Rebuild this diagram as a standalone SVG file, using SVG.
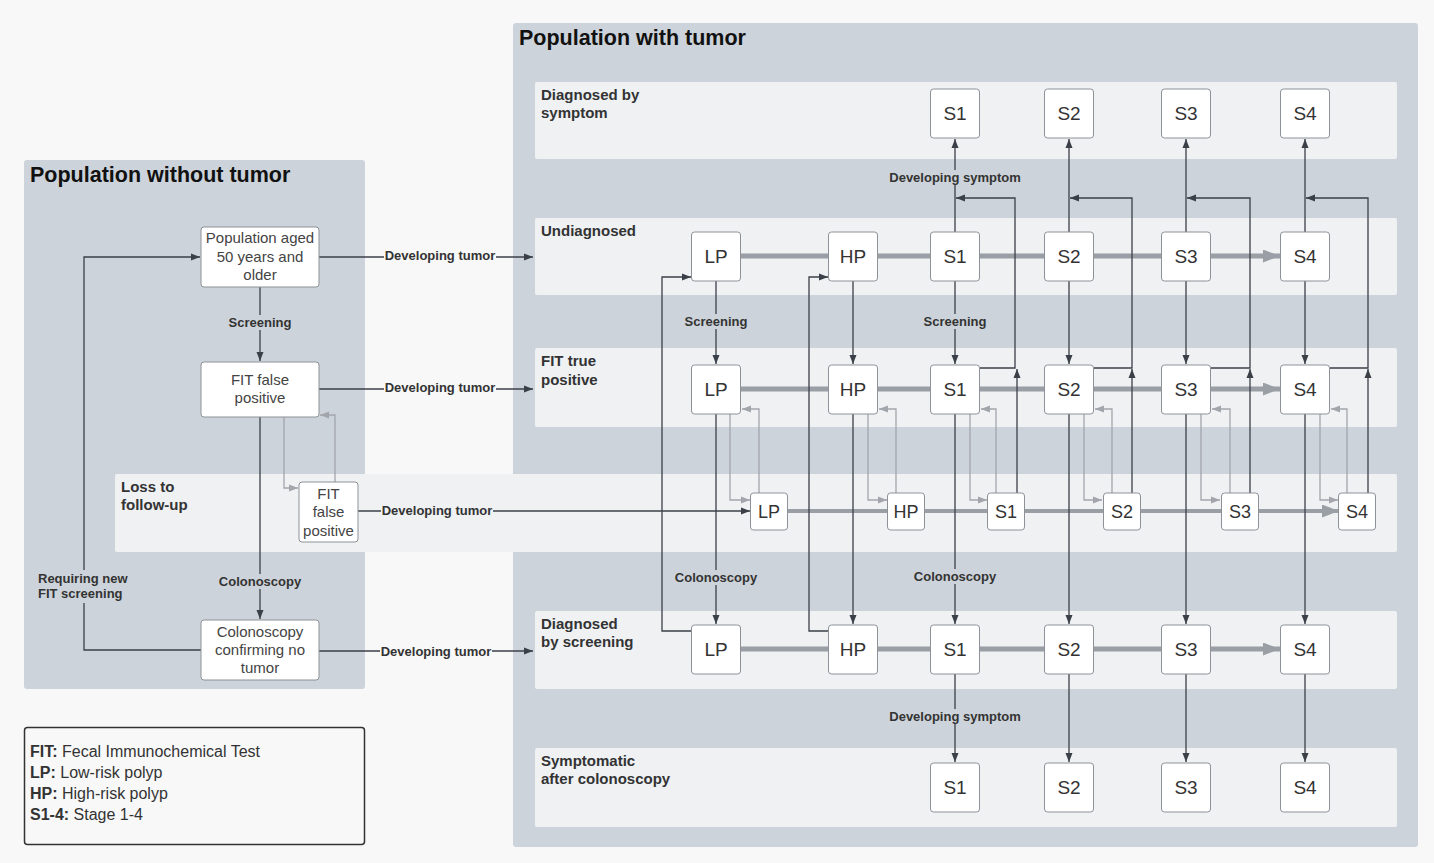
<svg xmlns="http://www.w3.org/2000/svg" width="1434" height="863" viewBox="0 0 1434 863">
<defs>
<marker id="ad" markerWidth="9" markerHeight="8" refX="9" refY="4" orient="auto" markerUnits="userSpaceOnUse"><path d="M0,0.5 L9,4 L0,7.5 z" fill="#3b4048"/></marker>
<marker id="ag" markerWidth="9" markerHeight="8" refX="9" refY="4" orient="auto" markerUnits="userSpaceOnUse"><path d="M0,0.5 L9,4 L0,7.5 z" fill="#a2a6ac"/></marker>
<marker id="at" markerWidth="17" markerHeight="13" refX="17" refY="6.5" orient="auto" markerUnits="userSpaceOnUse"><path d="M0,0 L17,6.5 L0,13 z" fill="#9a9fa6"/></marker>
</defs>
<style>
.bg{fill:#f8f8f8}
.panel{fill:#cdd3da}
.lane{fill:#eff1f3}
.title{font-family:"Liberation Sans",Arial,sans-serif;font-weight:bold;font-size:21.5px;fill:#111}
.ll{font-family:"Liberation Sans",Arial,sans-serif;font-weight:bold;font-size:15px;fill:#333}
.node rect{fill:#fff;stroke:#8d9298;stroke-width:1}
.nt{font-family:"Liberation Sans",Arial,sans-serif;font-size:19px;fill:#333;text-anchor:middle}
.ns{font-family:"Liberation Sans",Arial,sans-serif;font-size:18px;fill:#333;text-anchor:middle}
.bt{font-family:"Liberation Sans",Arial,sans-serif;font-size:15px;fill:#444;text-anchor:middle}
.ln{fill:none;stroke:#3b4048;stroke-width:1.3}
.lg{fill:none;stroke:#a2a6ac;stroke-width:1.3}
.th{fill:none;stroke:#9a9fa6;stroke-width:5}
.cl{font-family:"Liberation Sans",Arial,sans-serif;font-weight:bold;font-size:13px;fill:#333;text-anchor:middle}
.cll{font-family:"Liberation Sans",Arial,sans-serif;font-weight:bold;font-size:13px;fill:#333}
.lp{fill:#cdd3da}
.lb{fill:#f8f8f8}
.lw{fill:#eff1f3}
.leg{font-family:"Liberation Sans",Arial,sans-serif;font-size:16px;fill:#333}
</style>
<rect class="bg" x="0" y="0" width="1434" height="863"/>
<g id="panel-without">
<rect class="panel" x="24" y="160" width="341" height="529" rx="3"/>
<text class="title" x="30" y="182">Population without tumor</text>
</g>
<g id="panel-with">
<rect class="panel" x="513" y="23" width="905" height="824" rx="3"/>
<text class="title" x="519" y="45">Population with tumor</text>
</g>
<g id="lanes">
<rect class="lane" x="535" y="82" width="862" height="77" rx="2"/>
<rect class="lane" x="535" y="218" width="862" height="77" rx="2"/>
<rect class="lane" x="535" y="348" width="862" height="79" rx="2"/>
<rect class="lane" x="115" y="474" width="1282" height="78" rx="2"/>
<rect class="lane" x="535" y="611" width="862" height="78" rx="2"/>
<rect class="lane" x="535" y="748" width="862" height="79" rx="2"/>
<text class="ll" x="541" y="100">Diagnosed by</text>
<text class="ll" x="541" y="118">symptom</text>
<text class="ll" x="541" y="236">Undiagnosed</text>
<text class="ll" x="541" y="366">FIT true</text>
<text class="ll" x="541" y="385">positive</text>
<text class="ll" x="121" y="492">Loss to</text>
<text class="ll" x="121" y="510">follow-up</text>
<text class="ll" x="541" y="629">Diagnosed</text>
<text class="ll" x="541" y="647">by screening</text>
<text class="ll" x="541" y="766">Symptomatic</text>
<text class="ll" x="541" y="784">after colonoscopy</text>
</g>
<g id="connectors">
<!-- thick progression -->
<path class="th" d="M741,256 H1280" marker-end="url(#at)"/>
<path class="th" d="M741,389 H1280" marker-end="url(#at)"/>
<path class="th" d="M787,511 H1339" style="stroke-width:4" marker-end="url(#at)"/>
<path class="th" d="M741,649 H1280" marker-end="url(#at)"/>
<!-- left panel -->
<path class="ln" d="M260,287 V361" marker-end="url(#ad)"/>
<path class="ln" d="M260,417 V619" marker-end="url(#ad)"/>
<path class="ln" d="M201,650 H84 V257 H200" marker-end="url(#ad)"/>
<path class="lg" d="M284,417 V488 H298" marker-end="url(#ag)"/>
<path class="lg" d="M335,482 V415 H320" marker-end="url(#ag)"/>
<!-- developing tumor -->
<path class="ln" d="M319,257 H533" marker-end="url(#ad)"/>
<path class="ln" d="M319,389 H533" marker-end="url(#ad)"/>
<path class="ln" d="M358,511 H750" marker-end="url(#ad)"/>
<path class="ln" d="M319,651 H533" marker-end="url(#ad)"/>
<!-- undiagnosed to symptom -->
<path class="ln" d="M955,232 V139" marker-end="url(#ad)"/>
<path class="ln" d="M1069,232 V139" marker-end="url(#ad)"/>
<path class="ln" d="M1186,232 V139" marker-end="url(#ad)"/>
<path class="ln" d="M1305,232 V139" marker-end="url(#ad)"/>
<!-- FIT TP to symptom -->
<path class="ln" d="M980,368 H1015 V198 H956" marker-end="url(#ad)"/>
<path class="ln" d="M1094,368 H1132 V198 H1070" marker-end="url(#ad)"/>
<path class="ln" d="M1211,368 H1250 V198 H1187" marker-end="url(#ad)"/>
<path class="ln" d="M1330,368 H1368 V198 H1306" marker-end="url(#ad)"/>
<!-- loss to symptom route -->
<path class="ln" d="M1017,493 V369" marker-end="url(#ad)"/>
<path class="ln" d="M1132,493 V369" marker-end="url(#ad)"/>
<path class="ln" d="M1250,493 V369" marker-end="url(#ad)"/>
<path class="ln" d="M1368,493 V369" marker-end="url(#ad)"/>
<!-- screening -->
<path class="ln" d="M716,281 V364" marker-end="url(#ad)"/>
<path class="ln" d="M853,281 V364" marker-end="url(#ad)"/>
<path class="ln" d="M955,281 V364" marker-end="url(#ad)"/>
<path class="ln" d="M1069,281 V364" marker-end="url(#ad)"/>
<path class="ln" d="M1186,281 V364" marker-end="url(#ad)"/>
<path class="ln" d="M1305,281 V364" marker-end="url(#ad)"/>
<!-- colonoscopy -->
<path class="ln" d="M716,414 V624" marker-end="url(#ad)"/>
<path class="ln" d="M853,414 V624" marker-end="url(#ad)"/>
<path class="ln" d="M955,414 V624" marker-end="url(#ad)"/>
<path class="ln" d="M1069,414 V624" marker-end="url(#ad)"/>
<path class="ln" d="M1186,414 V624" marker-end="url(#ad)"/>
<path class="ln" d="M1305,414 V624" marker-end="url(#ad)"/>
<!-- screening back to undiagnosed -->
<path class="ln" d="M692,631 H662 V277 H691" marker-end="url(#ad)"/>
<path class="ln" d="M829,631 H809 V277 H828" marker-end="url(#ad)"/>
<!-- screening to symptomatic -->
<path class="ln" d="M955,674 V762" marker-end="url(#ad)"/>
<path class="ln" d="M1069,674 V762" marker-end="url(#ad)"/>
<path class="ln" d="M1186,674 V762" marker-end="url(#ad)"/>
<path class="ln" d="M1305,674 V762" marker-end="url(#ad)"/>
<!-- gray loss to follow-up -->
<path class="lg" d="M730,414 V500 H750" marker-end="url(#ag)"/>
<path class="lg" d="M759,493 V409 H742" marker-end="url(#ag)"/>
<path class="lg" d="M868,414 V500 H887" marker-end="url(#ag)"/>
<path class="lg" d="M896,493 V409 H879" marker-end="url(#ag)"/>
<path class="lg" d="M970,414 V500 H987" marker-end="url(#ag)"/>
<path class="lg" d="M996,493 V409 H981" marker-end="url(#ag)"/>
<path class="lg" d="M1084,414 V500 H1102" marker-end="url(#ag)"/>
<path class="lg" d="M1112,493 V409 H1095" marker-end="url(#ag)"/>
<path class="lg" d="M1201,414 V500 H1220" marker-end="url(#ag)"/>
<path class="lg" d="M1230,493 V409 H1212" marker-end="url(#ag)"/>
<path class="lg" d="M1320,414 V500 H1338" marker-end="url(#ag)"/>
<path class="lg" d="M1347,493 V409 H1331" marker-end="url(#ag)"/>
<!-- labels -->
<rect class="lp" x="226" y="315" width="68" height="15"/>
<text class="cl" x="260" y="327">Screening</text>
<rect class="lp" x="218" y="574" width="84" height="15"/>
<text class="cl" x="260" y="586">Colonoscopy</text>
<rect class="lp" x="36" y="570" width="96" height="33"/>
<text class="cll" x="38" y="583">Requiring new</text>
<text class="cll" x="38" y="598">FIT screening</text>
<rect class="lb" x="384" y="248" width="112" height="15"/>
<text class="cl" x="440" y="260">Developing tumor</text>
<rect class="lb" x="384" y="380" width="112" height="15"/>
<text class="cl" x="440" y="392">Developing tumor</text>
<rect class="lw" x="381" y="503" width="112" height="15"/>
<text class="cl" x="437" y="515">Developing tumor</text>
<rect class="lb" x="380" y="644" width="112" height="15"/>
<text class="cl" x="436" y="656">Developing tumor</text>
<rect class="lp" x="889" y="170" width="132" height="15"/>
<text class="cl" x="955" y="182">Developing symptom</text>
<rect class="lp" x="682" y="314" width="68" height="15"/>
<text class="cl" x="716" y="326">Screening</text>
<rect class="lp" x="921" y="314" width="68" height="15"/>
<text class="cl" x="955" y="326">Screening</text>
<rect class="lp" x="674" y="570" width="84" height="15"/>
<text class="cl" x="716" y="582">Colonoscopy</text>
<rect class="lp" x="913" y="569" width="84" height="15"/>
<text class="cl" x="955" y="581">Colonoscopy</text>
<rect class="lp" x="889" y="709" width="132" height="15"/>
<text class="cl" x="955" y="721">Developing symptom</text>
</g>
<!-- left nodes -->
<g id="n-pop" class="node"><rect x="201" y="227" width="118" height="60" rx="3"/><text class="bt" x="260" y="243">Population aged</text><text class="bt" x="260" y="262">50 years and</text><text class="bt" x="260" y="280">older</text></g>
<g id="n-fitfp" class="node"><rect x="201" y="362" width="118" height="55" rx="3"/><text class="bt" x="260" y="385">FIT false</text><text class="bt" x="260" y="403">positive</text></g>
<g id="n-fitfp-loss" class="node"><rect x="299" y="482" width="59" height="60" rx="3"/><text class="bt" x="328.5" y="499">FIT</text><text class="bt" x="328.5" y="517">false</text><text class="bt" x="328.5" y="536">positive</text></g>
<g id="n-colo" class="node"><rect x="201" y="620" width="118" height="60" rx="3"/><text class="bt" x="260" y="637">Colonoscopy</text><text class="bt" x="260" y="655">confirming no</text><text class="bt" x="260" y="673">tumor</text></g>
<!-- diagnosed by symptom -->
<g id="sym-s1" class="node"><rect x="930.5" y="89" width="49" height="49" rx="3"/><text class="nt" x="955" y="120">S1</text></g>
<g id="sym-s2" class="node"><rect x="1044.5" y="89" width="49" height="49" rx="3"/><text class="nt" x="1069" y="120">S2</text></g>
<g id="sym-s3" class="node"><rect x="1161.5" y="89" width="49" height="49" rx="3"/><text class="nt" x="1186" y="120">S3</text></g>
<g id="sym-s4" class="node"><rect x="1280.5" y="89" width="49" height="49" rx="3"/><text class="nt" x="1305" y="120">S4</text></g>
<!-- undiagnosed -->
<g id="und-lp" class="node"><rect x="691.5" y="232" width="49" height="49" rx="3"/><text class="nt" x="716" y="263">LP</text></g>
<g id="und-hp" class="node"><rect x="828.5" y="232" width="49" height="49" rx="3"/><text class="nt" x="853" y="263">HP</text></g>
<g id="und-s1" class="node"><rect x="930.5" y="232" width="49" height="49" rx="3"/><text class="nt" x="955" y="263">S1</text></g>
<g id="und-s2" class="node"><rect x="1044.5" y="232" width="49" height="49" rx="3"/><text class="nt" x="1069" y="263">S2</text></g>
<g id="und-s3" class="node"><rect x="1161.5" y="232" width="49" height="49" rx="3"/><text class="nt" x="1186" y="263">S3</text></g>
<g id="und-s4" class="node"><rect x="1280.5" y="232" width="49" height="49" rx="3"/><text class="nt" x="1305" y="263">S4</text></g>
<!-- FIT true positive -->
<g id="tp-lp" class="node"><rect x="691.5" y="365" width="49" height="49" rx="3"/><text class="nt" x="716" y="396">LP</text></g>
<g id="tp-hp" class="node"><rect x="828.5" y="365" width="49" height="49" rx="3"/><text class="nt" x="853" y="396">HP</text></g>
<g id="tp-s1" class="node"><rect x="930.5" y="365" width="49" height="49" rx="3"/><text class="nt" x="955" y="396">S1</text></g>
<g id="tp-s2" class="node"><rect x="1044.5" y="365" width="49" height="49" rx="3"/><text class="nt" x="1069" y="396">S2</text></g>
<g id="tp-s3" class="node"><rect x="1161.5" y="365" width="49" height="49" rx="3"/><text class="nt" x="1186" y="396">S3</text></g>
<g id="tp-s4" class="node"><rect x="1280.5" y="365" width="49" height="49" rx="3"/><text class="nt" x="1305" y="396">S4</text></g>
<!-- loss to follow-up -->
<g id="loss-lp" class="node"><rect x="750.5" y="493" width="37" height="37" rx="3"/><text class="ns" x="769" y="518">LP</text></g>
<g id="loss-hp" class="node"><rect x="887.5" y="493" width="37" height="37" rx="3"/><text class="ns" x="906" y="518">HP</text></g>
<g id="loss-s1" class="node"><rect x="987.5" y="493" width="37" height="37" rx="3"/><text class="ns" x="1006" y="518">S1</text></g>
<g id="loss-s2" class="node"><rect x="1103.5" y="493" width="37" height="37" rx="3"/><text class="ns" x="1122" y="518">S2</text></g>
<g id="loss-s3" class="node"><rect x="1221.5" y="493" width="37" height="37" rx="3"/><text class="ns" x="1240" y="518">S3</text></g>
<g id="loss-s4" class="node"><rect x="1338.5" y="493" width="37" height="37" rx="3"/><text class="ns" x="1357" y="518">S4</text></g>
<!-- diagnosed by screening -->
<g id="scr-lp" class="node"><rect x="691.5" y="625" width="49" height="49" rx="3"/><text class="nt" x="716" y="656">LP</text></g>
<g id="scr-hp" class="node"><rect x="828.5" y="625" width="49" height="49" rx="3"/><text class="nt" x="853" y="656">HP</text></g>
<g id="scr-s1" class="node"><rect x="930.5" y="625" width="49" height="49" rx="3"/><text class="nt" x="955" y="656">S1</text></g>
<g id="scr-s2" class="node"><rect x="1044.5" y="625" width="49" height="49" rx="3"/><text class="nt" x="1069" y="656">S2</text></g>
<g id="scr-s3" class="node"><rect x="1161.5" y="625" width="49" height="49" rx="3"/><text class="nt" x="1186" y="656">S3</text></g>
<g id="scr-s4" class="node"><rect x="1280.5" y="625" width="49" height="49" rx="3"/><text class="nt" x="1305" y="656">S4</text></g>
<!-- symptomatic after colonoscopy -->
<g id="sac-s1" class="node"><rect x="930.5" y="763" width="49" height="49" rx="3"/><text class="nt" x="955" y="794">S1</text></g>
<g id="sac-s2" class="node"><rect x="1044.5" y="763" width="49" height="49" rx="3"/><text class="nt" x="1069" y="794">S2</text></g>
<g id="sac-s3" class="node"><rect x="1161.5" y="763" width="49" height="49" rx="3"/><text class="nt" x="1186" y="794">S3</text></g>
<g id="sac-s4" class="node"><rect x="1280.5" y="763" width="49" height="49" rx="3"/><text class="nt" x="1305" y="794">S4</text></g>
<!-- legend -->
<g id="legend">
<rect x="24.5" y="727.5" width="340" height="117" rx="3" fill="none" stroke="#333" stroke-width="1.5"/>
<text class="leg" x="30" y="757"><tspan font-weight="bold">FIT:</tspan> Fecal Immunochemical Test</text>
<text class="leg" x="30" y="778"><tspan font-weight="bold">LP:</tspan> Low-risk polyp</text>
<text class="leg" x="30" y="799"><tspan font-weight="bold">HP:</tspan> High-risk polyp</text>
<text class="leg" x="30" y="820"><tspan font-weight="bold">S1-4:</tspan> Stage 1-4</text>
</g>
</svg>
